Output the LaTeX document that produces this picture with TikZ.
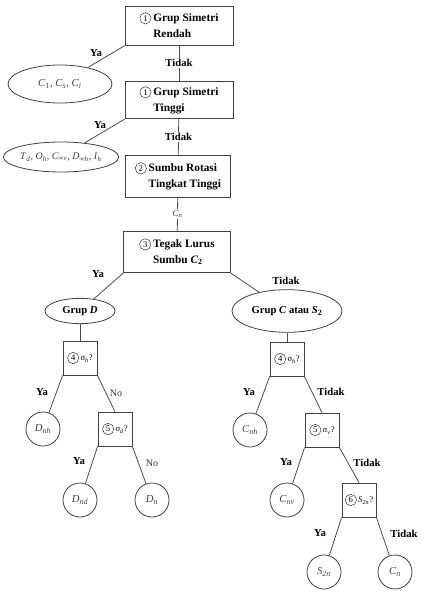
\documentclass[tikz,border=0pt]{standalone}
\usepackage{fontspec}
\setmainfont{Liberation Serif}
\usetikzlibrary{shapes.geometric}
\newcommand\cnum[1]{\tikz[baseline=(cn.base)]\node[draw=black!75,line width=0.4pt,circle,inner sep=0pt,minimum size=8.5pt,fill=none,font=\fontsize{6.5}{6.5}\selectfont\mdseries](cn){#1};}
\newcommand\sub[2]{\textit{#1}\textsubscript{\textit{#2}}}
\begin{document}
\begin{tikzpicture}[x=0.75pt,y=-0.75pt,
  ln/.style={draw=black!70,line width=0.6pt},
  bigbox/.style={draw=black!75,line width=0.6pt,rectangle,inner sep=0pt,font=\fontsize{8.5}{12}\selectfont\bfseries},
  sbox/.style={draw=black!75,line width=0.6pt,rectangle,minimum size=25.5pt,inner sep=0pt,font=\fontsize{6.5}{7}\selectfont},
  res/.style={draw=black!75,line width=0.6pt,circle,minimum size=25.5pt,inner sep=0pt,font=\fontsize{8}{9}\selectfont,text=black!75},
  oval/.style={draw=black!75,line width=0.6pt,ellipse,inner sep=0pt},
  lbl/.style={font=\fontsize{8}{9}\selectfont\bfseries,inner sep=1pt},
  lbln/.style={font=\fontsize{7.5}{9}\selectfont,inner sep=1pt,text=black!80}]
\useasboundingbox (0,0) rectangle (427,592);
% main boxes
\node[bigbox,minimum width=81pt,minimum height=29pt] (b1) at (179,26)
  {\begin{tabular}{@{}l@{\,}l@{}}\cnum{1}&Grup Simetri\\&Rendah\end{tabular}};
\node[bigbox,minimum width=81pt,minimum height=28pt] (b2) at (179,100)
  {\begin{tabular}{@{}l@{\,}l@{}}\cnum{1}&Grup Simetri\\&Tinggi\end{tabular}};
\node[bigbox,minimum width=79pt,minimum height=31.5pt] (b3) at (178,176)
  {\begin{tabular}{@{}l@{\,}l@{}}\cnum{2}&Sumbu Rotasi\\&Tingkat Tinggi\end{tabular}};
\node[bigbox,minimum width=80pt,minimum height=31pt] (b4) at (177,252)
  {\begin{tabular}{@{}l@{\,}l@{}}\cnum{3}&Tegak Lurus\\&Sumbu \textit{C}\textsubscript{2}\end{tabular}};
% ovals
\node[oval,minimum width=78pt,minimum height=28.5pt,font=\fontsize{8}{9}\selectfont,text=black!75] (e1) at (60,84)
  {\textit{C}\textsubscript{1}, \sub{C}{s}, \sub{C}{i}};
\node[oval,minimum width=80pt,minimum height=22.5pt,font=\fontsize{7.5}{8}\selectfont,text=black!75] (e2) at (61,157)
  {\sub{T}{d}, \sub{O}{h}, \sub{C}{∞v}, \sub{D}{∞h}, \sub{I}{h}};
\node[oval,minimum width=52.5pt,minimum height=19pt,font=\fontsize{8}{9}\selectfont\bfseries] (eD) at (80,311)
  {Grup \textit{D}};
\node[oval,minimum width=82.5pt,minimum height=32pt,font=\fontsize{8}{9}\selectfont\bfseries] (eC) at (287,311)
  {Grup \textit{C} atau \textit{S}\textsubscript{2}};
% small boxes
\node[sbox] (s4L) at (80,358) {\cnum{4}\,σ\textsubscript{\textit{h}}?};
\node[sbox] (s5L) at (115,429) {\cnum{5}\,σ\textsubscript{\textit{d}}?};
\node[sbox] (s4R) at (287,359) {\cnum{4}\,σ\textsubscript{\textit{h}}?};
\node[sbox] (s5R) at (322,430) {\cnum{5}\,σ\textsubscript{\textit{v}}?};
\node[sbox] (s6) at (359,500) {\cnum{6}\,\sub{S}{2n}?};
% results
\node[res] (cDnh) at (43,429) {\sub{D}{nh}};
\node[res] (cDnd) at (80,500) {\sub{D}{nd}};
\node[res] (cDn) at (152,500) {\sub{D}{n}};
\node[res] (cCnh) at (250,430) {\sub{C}{nh}};
\node[res] (cCnv) at (287,500) {\sub{C}{nv}};
\node[res] (cS2n) at (324,572) {\sub{S}{2n}};
\node[res] (cCn) at (395,572) {\sub{C}{n}};
% connectors
\draw[ln] (b1) -- node[lbl,fill=white]{Tidak} (b2);
\draw[ln] (b2) -- node[lbl,fill=white]{Tidak} (b3);
\draw[ln] (b3) -- node[fill=white,inner sep=1pt,font=\fontsize{7}{8}\selectfont,text=black!75]{\sub{C}{n}} (b4);
\draw[ln] (b1.south west) -- (e1);
\draw[ln] (b2.south west) -- (e2);
\draw[ln] (b4.south west) -- (eD);
\draw[ln] (b4.south east) -- (eC);
\draw[ln] (eD) -- (s4L);
\draw[ln] (eC) -- (s4R);
\draw[ln] (s4L.south west) -- (cDnh);
\draw[ln] (s4L.south east) -- (s5L.north);
\draw[ln] (s5L.south west) -- (cDnd);
\draw[ln] (s5L.south east) -- (cDn);
\draw[ln] (s4R.south west) -- (cCnh);
\draw[ln] (s4R.south east) -- (s5R.north);
\draw[ln] (s5R.south west) -- (cCnv);
\draw[ln] (s5R.south east) -- (s6.north);
\draw[ln] (s6.south west) -- (cS2n);
\draw[ln] (s6.south east) -- (cCn);
% labels
\node[lbl] (ya1) at (96,53) {Ya};
\node[lbl] (ya2) at (100,125) {Ya};
\node[lbl] (ya3) at (98,274) {Ya};
\node[lbl] (td3) at (286,281) {Tidak};
\node[lbl] (ya4) at (42,392) {Ya};
\node[lbln] (no4) at (116,393) {No};
\node[lbl] (ya5) at (79,461) {Ya};
\node[lbln] (no5) at (152,463) {No};
\node[lbl] (ya6) at (249,392) {Ya};
\node[lbl] (td6) at (331,392) {Tidak};
\node[lbl] (ya7) at (286,462) {Ya};
\node[lbl] (td7) at (367,463) {Tidak};
\node[lbl] (ya8) at (320,533) {Ya};
\node[lbl] (td8) at (404,534) {Tidak};
\end{tikzpicture}
\end{document}
